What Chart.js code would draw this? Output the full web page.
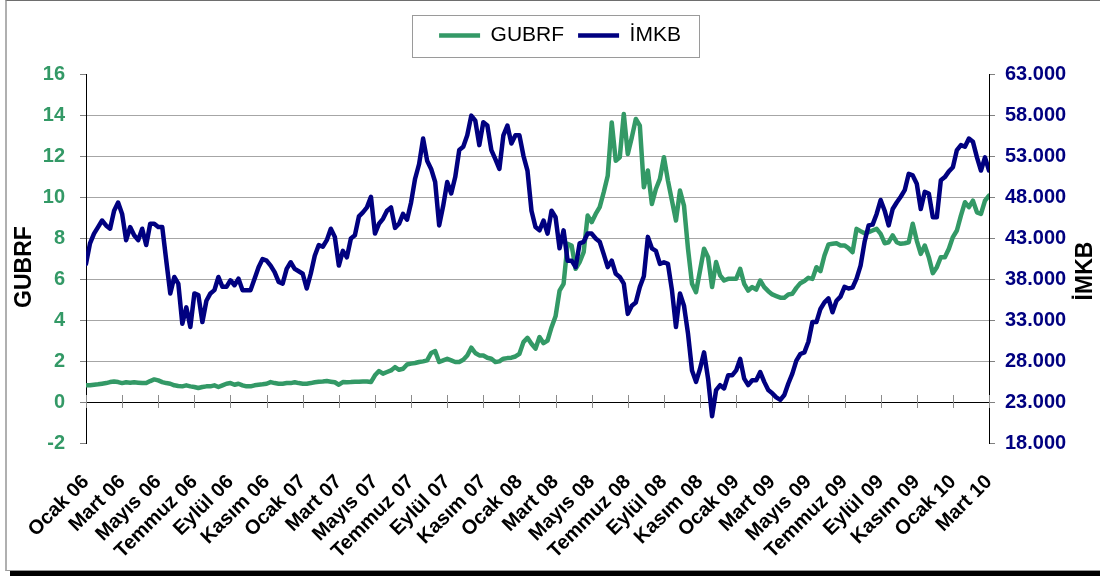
<!DOCTYPE html>
<html>
<head>
<meta charset="utf-8">
<title>GUBRF - İMKB</title>
<script src="https://cdn.jsdelivr.net/npm/chart.js@4.4.1/dist/chart.umd.min.js"></script>
<style>
    html, body { margin: 0; padding: 0; background: #fff; }
    .frame { position: absolute; left: 5px; top: 0; width: 1095px; height: 571px; box-sizing: border-box;
             border-top: 1px solid #6e6e6e; border-left: 2px solid #b0b0b0; border-bottom: 1px solid #999; }
    .shadow { position: absolute; left: 10px; top: 571px; width: 1090px; height: 5px; background: #000; }
    #chart { position: absolute; left: 0; top: 0; }
</style>
</head>
<body>
<div class="frame"></div>
<div class="shadow"></div>
<canvas id="chart" width="1100" height="576"></canvas>
<script>
// Series values (about one point per week)
const gubrf = [
    0.83, 0.83, 0.86, 0.88, 0.91, 0.94, 0.99, 1.02, 0.99, 0.94,
    0.98, 0.96, 0.98, 0.96, 0.94, 0.94, 1.04, 1.12, 1.07, 0.99,
    0.94, 0.91, 0.83, 0.80, 0.78, 0.83, 0.78, 0.75, 0.70, 0.75,
    0.78, 0.78, 0.83, 0.75, 0.83, 0.91, 0.94, 0.86, 0.91,
    0.83, 0.78, 0.78, 0.83, 0.86, 0.88, 0.91, 0.99, 0.94, 0.91, 0.91,
    0.94, 0.94, 0.98, 0.94, 0.91, 0.91, 0.94, 0.98, 1.01, 1.02,
    1.04, 1.01, 0.98, 0.86, 0.99, 0.98, 0.99, 1.01, 1.01, 1.02,
    1.02, 0.99, 1.32, 1.53,
    1.40, 1.48, 1.56, 1.72, 1.59, 1.64,
    1.85, 1.89, 1.92, 1.97, 2.00, 2.05, 2.41, 2.50, 1.97, 2.05,
    2.13, 2.05, 1.97, 1.97, 2.08, 2.29, 2.67, 2.41, 2.29, 2.29,
    2.18, 2.13, 1.97, 2.00, 2.13, 2.16, 2.18, 2.24, 2.37, 2.94,
    3.15,
    2.86, 2.62, 3.19, 2.89, 3.02, 3.67, 4.20, 5.46, 5.79,
    7.74, 7.66, 6.52, 6.85, 7.33, 9.12, 8.80, 9.20, 9.53, 10.26,
    11.07, 13.67, 11.80, 11.97, 14.08, 12.13, 12.94, 13.84, 13.51, 10.50,
    11.32, 9.69, 10.42, 10.91, 11.97, 10.83, 9.85, 8.88, 10.34,
    9.61, 7.50,
    5.79, 5.38, 6.44, 7.50, 7.09, 5.63, 6.85, 6.20, 5.95,
    6.03, 6.03, 6.03, 6.52, 5.79, 5.46, 5.63, 5.50, 5.95, 5.63,
    5.43, 5.27, 5.19, 5.11, 5.11, 5.27, 5.30, 5.59, 5.82, 5.92,
    6.08, 6.03, 6.60, 6.41, 7.17, 7.71,
    7.74, 7.77, 7.66, 7.66, 7.53, 7.33, 8.47, 8.36, 8.26, 8.31,
    8.39, 8.47, 8.23, 7.77, 7.82, 8.15, 7.82, 7.74, 7.77, 7.82,
    8.72, 7.90, 7.25, 7.66, 7.09, 6.31, 6.60, 7.09, 7.09, 7.50,
    8.07, 8.39, 9.12, 9.77, 9.53, 9.85, 9.28, 9.20, 9.85, 10.10
];

const imkb = [
    39900, 42400, 43600, 44400, 45200, 44600, 44200, 46400, 47400, 46000,
    42800, 44400, 43400, 42800, 44200, 42200, 44800, 44800, 44400, 44400,
    40300, 36300, 38300, 37500, 32600, 34600, 32200, 36300, 36100, 32800,
    35400, 36300, 36700, 38300, 37100, 37100, 37900, 37300, 38100,
    36700, 36700, 36700, 38100, 39500, 40500, 40300, 39700, 38900, 37700, 37500,
    39300, 40100, 39300, 39000, 38700, 36900, 38700, 40900, 42200, 42000,
    42800, 44200, 43200, 39700, 41500, 40700, 43000, 43400, 45700, 46200,
    46800, 48100, 43600, 44800,
    45400, 46400, 46800, 44300, 44800, 46000,
    45300, 47400, 50300, 52100, 55200, 52500, 51500, 49900, 44600, 47000,
    49900, 48500, 50500, 53800, 54200, 55600, 58000, 57400, 54400, 57200,
    56800, 53800, 52700, 51500, 55600, 56800, 54600, 55600, 55600, 53100,
    51300,
    46400, 44400, 44000, 45200, 43600, 46400, 45600, 41800, 44000,
    40300, 40300, 39500, 42400, 42600, 43600, 43600, 43000, 42600, 41100,
    39500, 40300, 38700, 38300, 37500, 33800, 34800, 35200, 37100, 38400,
    43200, 41800, 41500, 39900, 40100, 39900, 36700, 32200, 36300,
    34800, 31400,
    26900, 25500, 27100, 29100, 25900, 21300, 24500, 25100, 24700,
    26300, 26300, 26900, 28300, 25900, 25100, 25700, 25700, 26700, 25500,
    24500, 24100, 23600, 23300, 23900, 25300, 26500, 28100, 28900, 29100,
    30400, 32800, 32800, 34400, 35200, 35700,
    34000, 35400, 35900, 37100, 36900, 37000, 38100, 39700, 42600, 44600,
    44700, 46000, 47700, 46400, 44600, 46600, 47400, 48100, 48900, 50900,
    50700, 49700, 46600, 48700, 48500, 45600, 45600, 50100, 50500, 51200,
    51700, 53800, 54400, 54200, 55200, 54800, 52900, 51300, 52900, 51300
];

// x axis tick labels, one every two months
const tickLabels = [
    'Ocak 06', 'Mart 06', 'Mayıs 06', 'Temmuz 06', 'Eylül 06', 'Kasım 06',
    'Ocak 07', 'Mart 07', 'Mayıs 07', 'Temmuz 07', 'Eylül 07', 'Kasım 07',
    'Ocak 08', 'Mart 08', 'Mayıs 08', 'Temmuz 08', 'Eylül 08', 'Kasım 08',
    'Ocak 09', 'Mart 09', 'Mayıs 09', 'Temmuz 09', 'Eylül 09', 'Kasım 09',
    'Ocak 10', 'Mart 10'
];

const GREEN = '#339966';
const NAVY = '#000080';
const GRID = '#a6a6a6';
const FONT = "'Liberation Sans', Arial, sans-serif";
const PAD_TOP = 11;

const tickStep = (gubrf.length - 1) / (tickLabels.length - 1);

// Extra drawing: x tick marks on the zero line, axis titles, legend frame
const chartExtras = {
    id: 'chartExtras',
    afterLayout(chart) {
        // keep the legend at the top edge, the plot area is pushed down by the y axis padding
        const lg = chart.legend;
        const dy = lg.top - PAD_TOP;
        lg.top -= dy;
        lg.bottom -= dy;
    },
    beforeDatasetsDraw(chart) {
        const { ctx, scales: { x, y } } = chart;
        const y0 = Math.round(y.getPixelForValue(0));
        ctx.save();
        ctx.strokeStyle = '#8c8c8c';
        ctx.lineWidth = 1;
        x.ticks.forEach(t => {
            const px = Math.round(x.getPixelForValue(t.value)) + 0.5;
            ctx.beginPath();
            ctx.moveTo(px, y0 - 7);
            ctx.lineTo(px, y0 + 6);
            ctx.stroke();
        });
        ctx.restore();
    },
    afterDraw(chart) {
        const { ctx, chartArea } = chart;
        const midY = (chartArea.top + chartArea.bottom) / 2;
        ctx.save();
        ctx.fillStyle = '#000';
        ctx.font = 'bold 23px ' + FONT;
        ctx.textAlign = 'center';
        ctx.textBaseline = 'middle';
        // left title
        ctx.save();
        ctx.translate(chartArea.left - 61, midY + 8);
        ctx.rotate(-Math.PI / 2);
        ctx.fillText('GUBRF', 0, 0);
        ctx.restore();
        // right title, reads bottom to top as well
        ctx.save();
        ctx.translate(chartArea.right + 97, midY + 12);
        ctx.rotate(-Math.PI / 2);
        ctx.fillText('İMKB', 0, 0);
        ctx.restore();

        // frame round the legend
        const boxes = chart.legend.legendHitBoxes;
        if (boxes && boxes.length) {
            const l = Math.min(...boxes.map(b => b.left)) - 27;
            const r = Math.max(...boxes.map(b => b.left + b.width)) + 18;
            const t = boxes[0].top - 10;
            const b = boxes[0].top + boxes[0].height + 11;
            ctx.strokeStyle = '#9a9a9a';
            ctx.lineWidth = 1;
            ctx.strokeRect(Math.round(l) + 0.5, Math.round(t) + 0.5, Math.round(r - l), Math.round(b - t));
        }
        ctx.restore();
    }
};

new Chart(document.getElementById('chart'), {
    type: 'line',
    data: {
        datasets: [{
            label: 'GUBRF',
            data: gubrf.map((v, i) => ({ x: i, y: v })),
            borderColor: GREEN,
            backgroundColor: GREEN,
            borderWidth: 4.5,
            borderJoinStyle: 'round',
            borderCapStyle: 'round',
            pointRadius: 0,
            tension: 0,
            yAxisID: 'y',
            order: 1
        }, {
            label: 'İMKB',
            data: imkb.map((v, i) => ({ x: i, y: v })),
            borderColor: NAVY,
            backgroundColor: NAVY,
            borderWidth: 4.5,
            borderJoinStyle: 'round',
            borderCapStyle: 'round',
            pointRadius: 0,
            tension: 0,
            yAxisID: 'y2',
            order: 0
        }]
    },
    options: {
        responsive: false,
        animation: false,
        events: [],
        layout: { padding: { top: PAD_TOP, left: 20, right: 0, bottom: 0 } },
        scales: {
            x: {
                type: 'linear',
                min: 0,
                max: gubrf.length - 1,
                afterBuildTicks: s => {
                    s.ticks = tickLabels.map((t, k) => ({ value: k * tickStep }));
                },
                afterFit: s => { s.height = 132.7; },
                grid: { display: false },
                border: { display: false },
                ticks: {
                    autoSkip: false,
                    minRotation: 45,
                    maxRotation: 45,
                    padding: 19,
                    color: '#000',
                    font: { family: FONT, size: 20, weight: 'bold' },
                    callback: (v, k) => tickLabels[k]
                }
            },
            y: {
                position: 'left',
                min: -2,
                max: 16,
                afterFit: s => { s.width = 66; s.paddingTop = 74.7; },
                grid: {
                    color: c => c.tick.value === 0 ? '#000' : (c.tick.value === 16 || c.tick.value === -2 ? 'rgba(0,0,0,0)' : GRID),
                    tickColor: '#808080',
                    tickLength: 6,
                    lineWidth: 1
                },
                border: { color: '#000', width: 1 },
                ticks: {
                    stepSize: 2,
                    padding: 15,
                    color: GREEN,
                    font: { family: FONT, size: 20, weight: 'bold' }
                }
            },
            y2: {
                position: 'right',
                min: 18000,
                max: 63000,
                afterFit: s => { s.width = 111; },
                grid: { drawOnChartArea: false, tickColor: '#808080', tickLength: 6 },
                border: { color: '#000', width: 1 },
                ticks: {
                    stepSize: 5000,
                    padding: 10,
                    color: NAVY,
                    font: { family: FONT, size: 20, weight: 'bold' },
                    callback: v => (v / 1000) + '.000'
                }
            }
        },
        plugins: {
            tooltip: { enabled: false },
            legend: {
                position: 'top',
                labels: {
                    usePointStyle: true,
                    pointStyle: 'line',
                    pointStyleWidth: 41,
                    padding: 14,
                    color: '#000',
                    font: { family: FONT, size: 21 },
                    sort: (a, b) => a.datasetIndex - b.datasetIndex
                }
            }
        }
    },
    plugins: [chartExtras]
});
</script>
</body>
</html>
